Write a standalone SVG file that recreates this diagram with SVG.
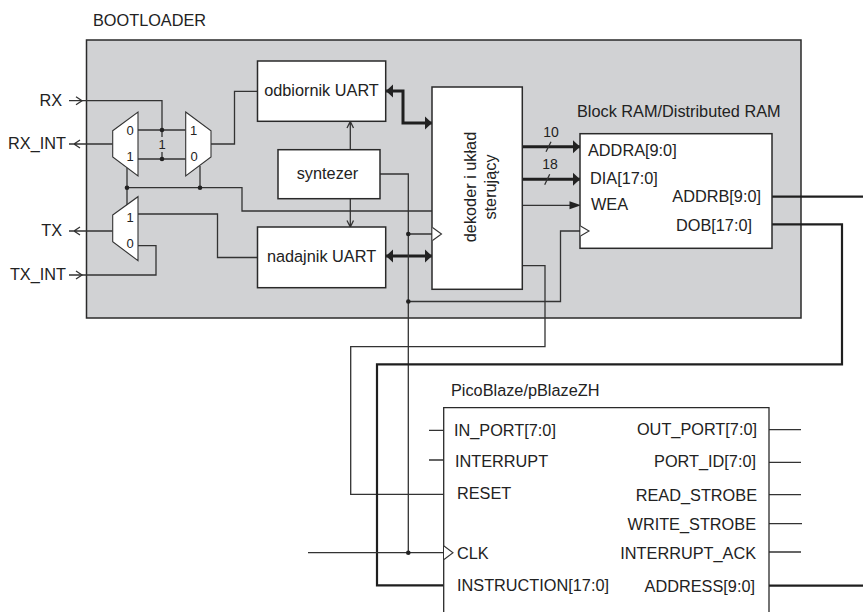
<svg xmlns="http://www.w3.org/2000/svg" width="863" height="612" viewBox="0 0 863 612">
<style>
text{font-family:"Liberation Sans",Arial,sans-serif;font-size:16.3px;fill:#222}
.s{font-size:13px}
.l{font-size:14px}
.m{text-anchor:middle}
.e{text-anchor:end}
.b{fill:#fff;stroke:#2a2a2a;stroke-width:1.5}
.c{fill:none;stroke:#333;stroke-width:1.3}
.t{fill:none;stroke:#1f1f1f;stroke-width:3}
.d{fill:none;stroke:#1f1f1f;stroke-width:2.2}
.h{fill:#222;stroke:none}
.k{fill:#fff;stroke:#333;stroke-width:1.1}
</style>
<defs>
<marker id="fa" markerUnits="userSpaceOnUse" markerWidth="8" markerHeight="14" refX="7" refY="7" orient="auto-start-reverse"><path d="M0 0.5 L7 7 L0 13.500 Z" fill="#222"/></marker>
</defs>
<rect id="bootloader" x="86.500" y="40" width="714.500" height="278" fill="#d1d2d4" stroke="#2a2a2a" stroke-width="1.500"/>
<text x="93" y="26">BOOTLOADER</text>
<g id="connectors">
<path class="c" d="M69 100.700H162V130"/>
<path class="c" d="M138 130H185.700M138 159H185.700"/>
<path class="c" d="M162 130V137M162 152V159"/>
<path class="c" d="M112.700 144H69M80 140L74 144L80 148"/>
<path class="c" d="M211 144H234.500V91.300H257.500"/>
<path class="c" d="M127 168V206M200 166V187.700M127 187.700H242V211H432"/>
<path class="c" d="M112.700 231H69M80 227L74 231L80 235"/>
<path class="c" d="M138 214H217.500V257.500H257.500"/>
<path class="c" d="M138 245.700H156V275H69"/>
<path class="c" d="M76 96.700L82 100.700L76 104.700"/>
<path class="c" d="M76 271L82 275L76 279"/>
<path class="c" d="M350.300 149.700V122M347 128L350.300 121.500L353.500 128"/>
<path class="c" d="M350.300 198.700V226M347 220.500L350.300 227L353.500 220.500"/>
<path class="t" d="M386 91H403V123H432" marker-start="url(#fa)" marker-end="url(#fa)"/>
<path class="t" d="M386 256H432" marker-start="url(#fa)" marker-end="url(#fa)"/>
<path class="t" d="M522.300 146.700H580" marker-end="url(#fa)"/>
<path class="t" d="M522.300 179.300H580" marker-end="url(#fa)"/>
<path class="c" d="M522.300 205.300H570"/>
<path class="h" d="M569.500 201.300L581 205.300L569.500 209.300Z"/>
<path class="c" d="M546 151.700L551 141.700M544.700 184.700L549.700 174.300"/>
<path class="c" d="M380 174H408.300V552.700"/>
<path class="c" d="M408.300 234H432M408.300 301.500H560.500V231H580"/>
<path class="c" d="M522.300 265.700H545V346.700H350.700V494.300H443.700"/>
<path class="d" d="M772 196.700H863"/>
<path class="d" d="M772 224.300H842V364.300H377V585.300H443.700"/>
<path class="d" d="M769 585.700H863"/>
<path class="c" d="M308 552.700H443.700"/>
<path class="c" d="M429 430.300H443.700M429 460H443.700M769 429.700H801M769 462.300H801M769 494.700H801M769 523.700H802M769 552H801"/>
</g>
<g id="mux1"><path class="k" d="M112.700 130.700L138 112V176L112.700 157Z"/><text class="s m" x="130" y="135">0</text><text class="s m" x="130" y="161">1</text></g>
<g id="mux2"><path class="k" d="M185.700 112L211 130.700V157L185.700 176Z"/><text class="s m" x="193.500" y="135">1</text><text class="s m" x="194" y="161">0</text></g>
<g id="mux3"><path class="k" d="M112.700 215L138 196.700V260.700L112.700 241.700Z"/><text class="s m" x="130" y="222">1</text><text class="s m" x="130" y="248">0</text></g>
<text class="s m" x="162" y="149">1</text>
<g class="dots">
<circle class="h" cx="162" cy="130" r="2.300"/><circle class="h" cx="162" cy="159" r="2.300"/>
<circle class="h" cx="127" cy="187.700" r="2.300"/><circle class="h" cx="200" cy="187.700" r="2.300"/>
<circle class="h" cx="408.300" cy="234" r="2.300"/><circle class="h" cx="408.300" cy="301.500" r="2.300"/>
<circle class="h" cx="408.300" cy="552.700" r="2.300"/>
</g>
<g id="odbiornik"><rect class="b" x="257.500" y="61" width="128.200" height="60.300"/><text class="m" x="321.500" y="96">odbiornik UART</text></g>
<g id="nadajnik"><rect class="b" x="257.500" y="227" width="128.200" height="60.700"/><text class="m" x="321.500" y="262">nadajnik UART</text></g>
<g id="syntezer"><rect class="b" x="278" y="149.700" width="102" height="49"/><text class="m" x="327.500" y="179">syntezer</text></g>
<g id="dekoder"><rect class="b" x="432" y="87" width="90.300" height="202.300"/>
<text class="m" transform="translate(476,187) rotate(-90)">dekoder i układ</text>
<text class="m" transform="translate(496,187) rotate(-90)">sterujący</text>
<path class="k" d="M432.500 227.500L441.500 234L432.500 240.500"/></g>
<g id="bram"><rect class="b" x="580" y="133.700" width="192" height="114.600"/>
<text x="577" y="117">Block RAM/Distributed RAM</text>
<text x="588" y="155.500">ADDRA[9:0]</text>
<text x="590" y="184">DIA[17:0]</text>
<text x="591" y="210">WEA</text>
<text class="e" x="761" y="202">ADDRB[9:0]</text>
<text class="e" x="752" y="231">DOB[17:0]</text>
<path class="k" d="M580.500 226L589 231L580.500 236"/></g>
<text class="l m" x="551" y="136.700">10</text>
<text class="l m" x="550" y="169">18</text>
<g id="picoblaze"><path d="M443.700 612V407.700H769V612" fill="#fff" stroke="#2a2a2a" stroke-width="1.300"/>
<text x="451" y="396">PicoBlaze/pBlazeZH</text>
<text x="454" y="436">IN_PORT[7:0]</text>
<text x="455" y="467">INTERRUPT</text>
<text x="457" y="499">RESET</text>
<text x="457" y="559">CLK</text>
<text x="457" y="591">INSTRUCTION[17:0]</text>
<text class="e" x="757" y="435">OUT_PORT[7:0]</text>
<text class="e" x="756" y="467">PORT_ID[7:0]</text>
<text class="e" x="757" y="501">READ_STROBE</text>
<text class="e" x="756" y="530">WRITE_STROBE</text>
<text class="e" x="756" y="559">INTERRUPT_ACK</text>
<text class="e" x="755" y="592">ADDRESS[9:0]</text>
<path class="k" d="M444 546L453 552.700L444 559.500"/></g>
<text class="e" x="62" y="105.500">RX</text>
<text class="e" x="66" y="149">RX_INT</text>
<text class="e" x="62" y="236">TX</text>
<text class="e" x="66" y="280">TX_INT</text>
</svg>
